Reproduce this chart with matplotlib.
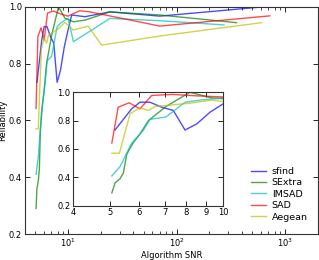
import numpy as np
import matplotlib
matplotlib.use("Agg")
import matplotlib.pyplot as plt
from matplotlib.ticker import ScalarFormatter, NullFormatter, NullLocator


# Data (x = algorithm SNR, y = reliability)

sfind_x = [5.17, 5.72, 6.02, 6.40, 6.88, 7.38, 7.93, 8.52, 9.24, 10.0, 10.8, 14.3, 24.3, 70.0, 560.0]
sfind_y = [0.734, 0.883, 0.930, 0.930, 0.895, 0.872, 0.734, 0.777, 0.860, 0.918, 0.971, 0.965, 0.982, 0.967, 0.998]

sextra_x = [5.07, 5.17, 5.33, 5.44, 5.55, 5.65, 5.80, 6.00, 6.34, 7.06, 8.17, 9.35, 11.2, 14.3, 24.3, 70.0, 357.0]
sextra_y = [0.29, 0.36, 0.39, 0.43, 0.56, 0.60, 0.65, 0.70, 0.80, 0.90, 1.00, 0.96, 0.947, 0.953, 0.982, 0.971, 0.944]

imsad_x = [5.07, 5.33, 5.72, 6.14, 6.40, 7.06, 7.93, 8.70, 10.0, 11.2, 24.3, 70.0, 274.0]
imsad_y = [0.41, 0.475, 0.64, 0.73, 0.809, 0.826, 0.930, 0.945, 0.960, 0.877, 0.959, 0.951, 0.936]

sad_x = [5.07, 5.27, 5.64, 6.02, 6.47, 7.35, 8.50, 10.0, 12.8, 15.9, 70.0, 724.0]
sad_y = [0.642, 0.895, 0.926, 0.883, 0.978, 0.985, 0.975, 0.967, 0.986, 0.982, 0.932, 0.968]

aegean_x = [5.07, 5.31, 5.67, 6.02, 6.34, 6.60, 7.24, 8.17, 9.35, 11.2, 15.3, 20.4, 70.0, 606.0]
aegean_y = [0.57, 0.57, 0.85, 0.89, 0.872, 0.90, 0.91, 0.923, 0.945, 0.918, 0.932, 0.865, 0.897, 0.944]

labels = ["sfind", "SExtra", "IMSAD", "SAD", "Aegean"]
colors = ["b", "g", "c", "r", "y"]
series = [
    (sfind_x, sfind_y),
    (sextra_x, sextra_y),
    (imsad_x, imsad_y),
    (sad_x, sad_y),
    (aegean_x, aegean_y),
]

inset_ticks = [4, 5, 6, 7, 8, 9, 10]

FS = 6.0
LW = 1.0
ALPHA = 0.7


def style_axes(ax):
    ax.tick_params(which="both", direction="in", top=True, right=True,
                   labelsize=FS, pad=2)
    ax.tick_params(which="major", length=3.5, width=0.6)
    ax.tick_params(which="minor", length=2, width=0.5)
    for s in ax.spines.values():
        s.set_linewidth(0.8)
        s.set_color("#333333")


fig = plt.figure(figsize=(3.19, 2.60), dpi=100)

# main axes
ax = fig.add_axes([0.078, 0.100, 0.918, 0.874])
for (x, y), lab, c in zip(series, labels, colors):
    ax.plot(x, y, color=c, lw=LW, alpha=ALPHA, label=lab)
ax.set_xscale("log")
ax.set_xlim(4, 2000)
ax.set_ylim(0.2, 1.0)
ax.set_yticks([0.2, 0.4, 0.6, 0.8, 1.0])
ax.set_xlabel("Algorithm SNR", fontsize=FS, labelpad=1)
ax.set_ylabel("Reliability", fontsize=FS, labelpad=1)
style_axes(ax)
ax.legend(loc="lower left", frameon=False, fontsize=6.8,
          handlelength=1.6, handletextpad=0.6, labelspacing=0.25,
          borderpad=0, borderaxespad=0, bbox_to_anchor=(0.772, 0.055))

# inset
ins = fig.add_axes([0.229, 0.209, 0.470, 0.436])
for (x, y), c in zip(series, colors):
    ins.plot(x, y, color=c, lw=LW, alpha=ALPHA)
ins.set_xscale("log")
ins.set_xlim(4, 10)
ins.set_ylim(0.2, 1.0)
ins.set_xticks(inset_ticks)
ins.xaxis.set_major_formatter(ScalarFormatter())
ins.xaxis.set_minor_formatter(NullFormatter())
ins.xaxis.set_minor_locator(NullLocator())
ins.set_yticks([0.2, 0.4, 0.6, 0.8, 1.0])
style_axes(ins)

fig.savefig("out.png", dpi=100, facecolor="white")
